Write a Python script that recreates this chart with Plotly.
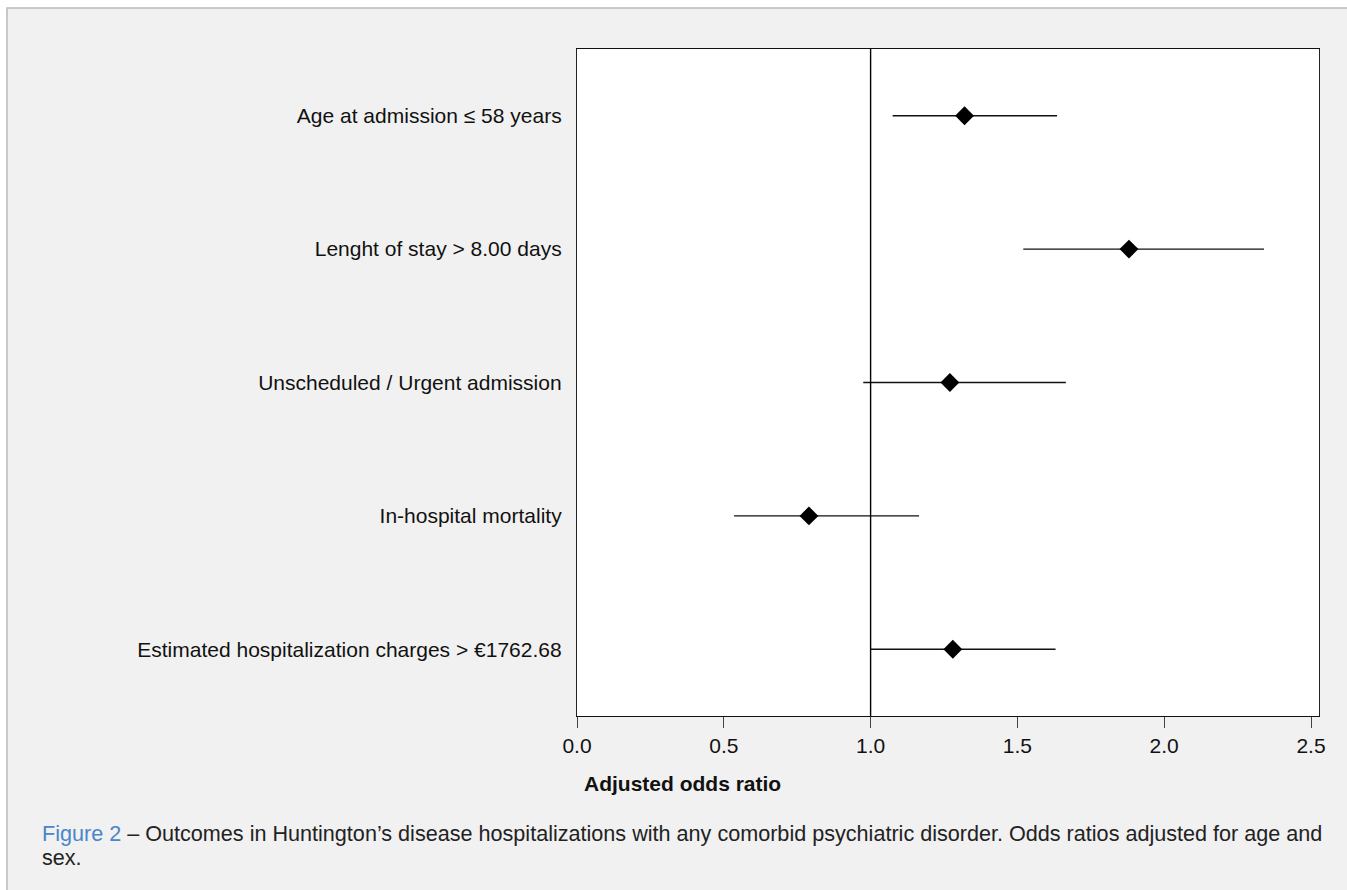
import plotly.graph_objects as go

# ---- data ----
labels = [
    "Age at admission ≤ 58 years",
    "Lenght of stay > 8.00 days",
    "Unscheduled / Urgent admission",
    "In-hospital mortality",
    "Estimated hospitalization charges > €1762.68",
]
odds_ratio = [1.32, 1.88, 1.27, 0.79, 1.28]
ci_low = [1.075, 1.52, 0.975, 0.535, 1.0]
ci_high = [1.635, 2.34, 1.665, 1.165, 1.63]
x_ticks = [0.0, 0.5, 1.0, 1.5, 2.0, 2.5]
x_tick_text = ["0.0", "0.5", "1.0", "1.5", "2.0", "2.5"]
reference_value = 1.0

W, H = 1347, 890
L, R, T, B = 577, 1319, 49, 716  # plot area pixels
pw, ph = R - L, B - T


def px(xp):
    return (xp - L) / pw


def py(yp):
    return (B - yp) / ph


FONT = "Liberation Sans, Arial, sans-serif"
FS = 21

fig = go.Figure()
fig.add_trace(
    go.Scatter(
        x=odds_ratio,
        y=labels,
        mode="markers",
        marker=dict(symbol="diamond", size=14.5, color="black"),
        error_x=dict(
            type="data",
            symmetric=False,
            array=[h - o for h, o in zip(ci_high, odds_ratio)],
            arrayminus=[o - l for o, l in zip(odds_ratio, ci_low)],
            width=0,
            thickness=1.4,
            color="#111",
        ),
        showlegend=False,
        hoverinfo="x+y",
    )
)

# reference line at OR = 1
fig.add_shape(
    type="line", xref="x", yref="paper", x0=reference_value, x1=reference_value,
    y0=0, y1=1, line=dict(color="black", width=1.4), layer="above",
)

# page background: gray panel with light border on top/left
fig.add_shape(
    type="rect", xref="paper", yref="paper",
    x0=px(7), x1=px(W + 20), y0=py(8), y1=py(H + 20),
    fillcolor="#f1f1f1", line=dict(color="#b9b9b9", width=1.5), layer="below",
)
# plot white area
fig.add_shape(
    type="rect", xref="paper", yref="paper", x0=0, x1=1, y0=0, y1=1,
    fillcolor="white", line=dict(width=0), layer="below",
)

# x-axis title (left placed)
fig.add_annotation(
    xref="paper", yref="paper", x=px(582), y=py(783), xanchor="left", yanchor="middle",
    text="<b>Adjusted odds ratio</b>", showarrow=False,
    font=dict(family=FONT, size=FS, color="#111"),
)

# caption (two lines)
fig.add_annotation(
    xref="paper", yref="paper", x=px(40), y=py(833), xanchor="left", yanchor="middle",
    align="left", showarrow=False,
    text=("<span style='color:#4a86c8'>Figure 2</span> – Outcomes in Huntington’s disease "
          "hospitalizations with any comorbid psychiatric disorder. Odds ratios adjusted for age and"),
    font=dict(family=FONT, size=21.6, color="#222"),
)
fig.add_annotation(
    xref="paper", yref="paper", x=px(40), y=py(858), xanchor="left", yanchor="middle",
    align="left", showarrow=False, text="sex.",
    font=dict(family=FONT, size=21.6, color="#222"),
)

fig.update_layout(
    width=W, height=H,
    margin=dict(l=L, r=W - R, t=T, b=H - B, pad=0),
    paper_bgcolor="white",
    plot_bgcolor="rgba(0,0,0,0)",
    font=dict(family=FONT, size=FS, color="#222"),
    xaxis=dict(
        range=[0, (R - L) / 293.6], tickvals=x_ticks, ticktext=x_tick_text,
        showgrid=False, zeroline=False, showline=True, mirror=True,
        linecolor="#111", linewidth=1.3, ticks="outside", ticklen=11,
        tickcolor="#444", tickwidth=1.2, tickfont=dict(size=FS, color="#111"),
    ),
    yaxis=dict(
        type="category", range=[4.5, -0.5], showgrid=False, zeroline=False,
        showline=True, mirror=True, linecolor="#222", linewidth=1.3,
        ticks="", ticklabelstandoff=10, tickfont=dict(size=FS, color="#111"),
    ),
)

fig.write_html(
    "out.html",
    config={"displayModeBar": False},
    post_script="document.body.style.margin='0';",
)
